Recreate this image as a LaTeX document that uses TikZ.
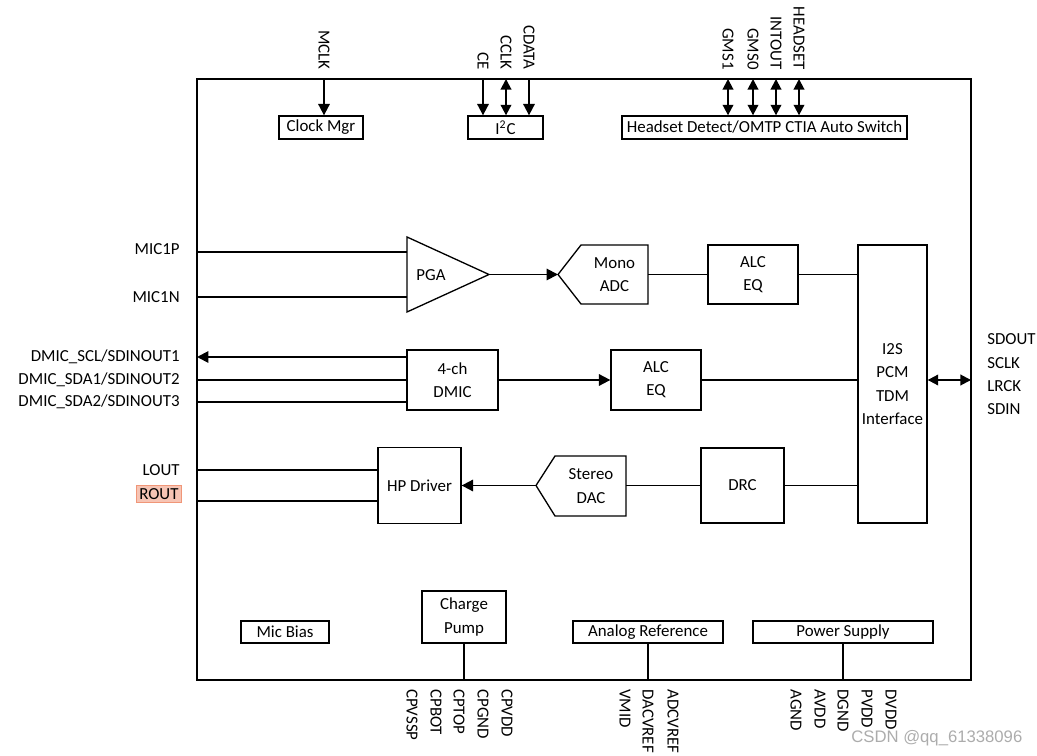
\documentclass[tikz,border=0pt]{standalone}
\usepackage{fontspec}
\setmainfont{Carlito}
\newfontfamily\wmfont{Liberation Sans}
\usetikzlibrary{arrows.meta}
\definecolor{routfill}{RGB}{246,196,180}
\definecolor{routline}{RGB}{240,150,120}

\begin{document}
\begin{tikzpicture}[x=0.02cm, y=-0.02cm,
  font=\fontsize{9.6}{13.2}\selectfont,
  every node/.append style={align=center},
  blk/.style 2 args={draw, line width=0.75pt, inner sep=0pt,
    minimum width=#1*0.02cm, minimum height=#2*0.02cm},
  wire/.style={line width=0.75pt},
  arr/.style={line width=1.1pt, -{Triangle[length=6.5pt,width=6.5pt]}},
  darr/.style={line width=1.1pt,
    {Triangle[length=6pt,width=6pt]}-{Triangle[length=6pt,width=6pt]}},
  toplbl/.style={rotate=-90, anchor=east, inner sep=0pt},
  botlbl/.style={rotate=-90, anchor=west, inner sep=0pt},
  sidelbl/.style={anchor=east, inner sep=0pt}]
  \useasboundingbox (0,0) rectangle (1037,756);

  % chip
  \coordinate (chipNW) at (197,79);
  \coordinate (chipSE) at (971,680);
  \draw[line width=0.8pt] (chipNW) rectangle (chipSE);

  % blocchi in alto
  \node[blk={84}{23}] (clkmgr) at (321,127.5) {Clock Mgr};
  \node[blk={75}{23}] (iic) at (505.5,127.5) {I\textsuperscript{2}C};
  \node[blk={285}{23}] (hsdet) at (764.5,127.5) {Headset Detect/OMTP CTIA Auto Switch};

  \foreach \x/\name/\txt in {324/mclk/MCLK, 483/ce/CE, 506/cclk/CCLK, 529/cdata/CDATA,
      728/gms1/GMS1, 753/gms0/GMS0, 776/intout/INTOUT, 799/headset/HEADSET}{
    \coordinate (p\name) at (\x,79);
    \node[toplbl] (l\name) at (\x,70) {\txt};
  }
  \draw[arr] (pmclk) -- (pmclk |- clkmgr.north);
  \draw[arr] (pce) -- (pce |- iic.north);
  \draw[darr] (pcclk) -- (pcclk |- iic.north);
  \draw[arr] (pcdata) -- (pcdata |- iic.north);
  \foreach \name in {gms1,gms0,intout,headset}
    \draw[darr] (p\name) -- (p\name |- hsdet.north);

  % PGA + ADC
  \coordinate (pgaA) at (407,237);
  \coordinate (pgaout) at (489,274.5);
  \coordinate (pgaB) at (407,312);
  \draw[wire] (pgaA) -- (pgaout) -- (pgaB) -- cycle;
  \node (pga) at (431,275) {PGA};
  \node[sidelbl] (lmic1p) at (180,249) {MIC1P};
  \node[sidelbl] (lmic1n) at (180,297) {MIC1N};
  \coordinate (pmic1p) at (197,252);
  \coordinate (pmic1n) at (197,297);
  \draw[wire] (pmic1p) -- (pmic1p -| pgaA);
  \draw[wire] (pmic1n) -- (pmic1n -| pgaA);

  \coordinate (adcin) at (558,274.5);
  \coordinate (adcout) at (648,274.5);
  \draw[wire] (adcin) -- (581,245) -- (648,245) -- (648,304) -- (581,304) -- cycle;
  \node (adc) at (614.5,275) {Mono\\ADC};
  \draw[arr] (pgaout) -- (adcin);
  \node[blk={90}{59}] (alc1) at (753,274.5) {ALC\\EQ};
  \draw[wire] (adcout) -- (alc1.west);

  \node[blk={69}{278}] (i2s) at (892.5,384) {I2S\\PCM\\TDM\\Interface};
  \draw[wire] (alc1.east) -- (alc1.east -| i2s.west);

  % DMIC
  \node[blk={91}{60}] (dmic) at (452.5,380) {4-ch\\DMIC};
  \node[blk={90}{60}] (alc2) at (656,380) {ALC\\EQ};
  \draw[arr] (dmic.east) -- (alc2.west);
  \draw[wire] (alc2.east) -- (alc2.east -| i2s.west);
  \node[sidelbl] (ldscl) at (180,357) {DMIC\_SCL/SDINOUT1};
  \node[sidelbl] (ldsda1) at (180,380) {DMIC\_SDA1/SDINOUT2};
  \node[sidelbl] (ldsda2) at (180,402) {DMIC\_SDA2/SDINOUT3};
  \coordinate (pdscl) at (197,357);
  \coordinate (pdsda1) at (197,380);
  \coordinate (pdsda2) at (197,402);
  \draw[arr] (pdscl -| dmic.west) -- (pdscl);
  \draw[wire] (pdsda1) -- (pdsda1 -| dmic.west);
  \draw[wire] (pdsda2) -- (pdsda2 -| dmic.west);

  % DAC + HP
  \node[blk={83}{76}] (hpdrv) at (419.5,485.5) {HP Driver};
  \coordinate (dacout) at (536,485.5);
  \coordinate (dacin) at (626,485.5);
  \draw[wire] (dacout) -- (555,456) -- (626,456) -- (626,516) -- (555,516) -- cycle;
  \node (dac) at (591,486) {Stereo\\DAC};
  \node[blk={83}{75}] (drc) at (742.5,485.5) {DRC};
  \draw[arr] (dacout) -- (hpdrv.east);
  \draw[wire] (dacin) -- (drc.west);
  \draw[wire] (drc.east) -- (drc.east -| i2s.west);
  \node[sidelbl] (llout) at (180,470) {LOUT};
  \node[anchor=east, inner sep=1.5pt, fill=routfill, draw=routline, line width=0.4pt] (lrout) at (181.5,494) {ROUT};
  \coordinate (plout) at (197,470);
  \coordinate (prout) at (197,501);
  \draw[wire] (plout) -- (plout -| hpdrv.west);
  \draw[wire] (prout) -- (prout -| hpdrv.west);

  % porta seriale
  \coordinate (psd) at (971,380);
  \draw[darr] (psd -| i2s.east) -- (psd);
  \node[anchor=west, inner sep=0pt] (lsdout) at (987,339) {SDOUT};
  \node[anchor=west, inner sep=0pt] (lsclk) at (987,363) {SCLK};
  \node[anchor=west, inner sep=0pt] (llrck) at (987,386) {LRCK};
  \node[anchor=west, inner sep=0pt] (lsdin) at (987,409) {SDIN};

  % blocchi in basso
  \node[blk={88}{22}] (micbias) at (285,632) {Mic Bias};
  \node[blk={84}{52}] (cpump) at (464,617) {Charge\\Pump};
  \node[blk={150}{22}] (aref) at (648,632) {Analog Reference};
  \node[blk={180}{22}] (psup) at (843,632) {Power Supply};
  \draw[wire] (cpump.south) -- (cpump.south |- chipSE);
  \draw[wire] (aref.south) -- (aref.south |- chipSE);
  \draw[wire] (psup.south) -- (psup.south |- chipSE);

  \foreach \x/\name/\txt in {412/cpvssp/CPVSSP, 436/cpbot/CPBOT, 459/cptop/CPTOP,
      483/cpgnd/CPGND, 507/cpvdd/CPVDD, 625/vmid/VMID, 648/dacvref/DACVREF,
      673/adcvref/ADCVREF, 796/agnd/AGND, 820/avdd/AVDD, 843/dgnd/DGND,
      867/pvdd/PVDD, 891/dvdd/DVDD}
    \node[botlbl] (l\name) at (\x,689) {\txt};

  \node[anchor=west, inner sep=0pt, text=gray!65, font=\wmfont\fontsize{9.5}{12}\selectfont] (wmark) at (851,738) {CSDN @qq\_61338096};
\end{tikzpicture}
\end{document}
